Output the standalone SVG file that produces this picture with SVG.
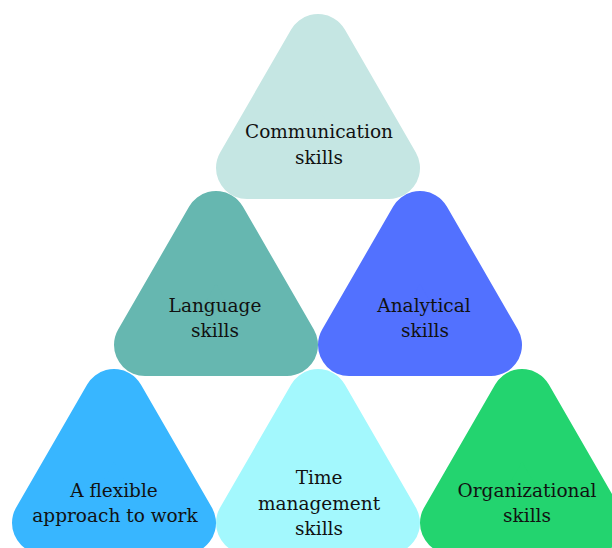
<svg xmlns="http://www.w3.org/2000/svg" width="612" height="548" viewBox="0 0 612 548">
  <style>
    .tri { stroke-width: 62; stroke-linejoin: round; }
    .lbl { font-family: "DejaVu Serif", "Liberation Serif", serif; font-size: 18.5px; fill: #111111; text-anchor: middle; }
  </style>
  <defs>
    <!-- base rounded triangle: inner triangle stroked with a round join -->
    <polygon id="tri" points="0,0 71,123 -71,123"/>
  </defs>
  <rect width="612" height="548" fill="#ffffff"/>

  <g id="communication">
    <use href="#tri" x="318" y="45" class="tri" fill="#c5e6e3" stroke="#c5e6e3"/>
    <text class="lbl" x="319" y="138">Communication</text>
    <text class="lbl" x="319" y="164">skills</text>
  </g>

  <g id="language">
    <use href="#tri" x="216" y="222" class="tri" fill="#66b7b0" stroke="#66b7b0"/>
    <text class="lbl" x="215" y="312">Language</text>
    <text class="lbl" x="215" y="337">skills</text>
  </g>

  <g id="analytical">
    <use href="#tri" x="420" y="222" class="tri" fill="#5271ff" stroke="#5271ff"/>
    <text class="lbl" x="424" y="312">Analytical</text>
    <text class="lbl" x="425" y="337">skills</text>
  </g>

  <g id="flexible">
    <use href="#tri" x="114" y="400" class="tri" fill="#38b6ff" stroke="#38b6ff"/>
    <text class="lbl" x="114" y="497">A flexible</text>
    <text class="lbl" x="115" y="522">approach to work</text>
  </g>

  <g id="time">
    <use href="#tri" x="318" y="400" class="tri" fill="#a3f8fd" stroke="#a3f8fd"/>
    <text class="lbl" x="319" y="484">Time</text>
    <text class="lbl" x="319" y="510">management</text>
    <text class="lbl" x="319" y="535">skills</text>
  </g>

  <g id="organizational">
    <use href="#tri" x="522" y="400" class="tri" fill="#23d46f" stroke="#23d46f"/>
    <text class="lbl" x="527" y="497">Organizational</text>
    <text class="lbl" x="527" y="522">skills</text>
  </g>
</svg>
